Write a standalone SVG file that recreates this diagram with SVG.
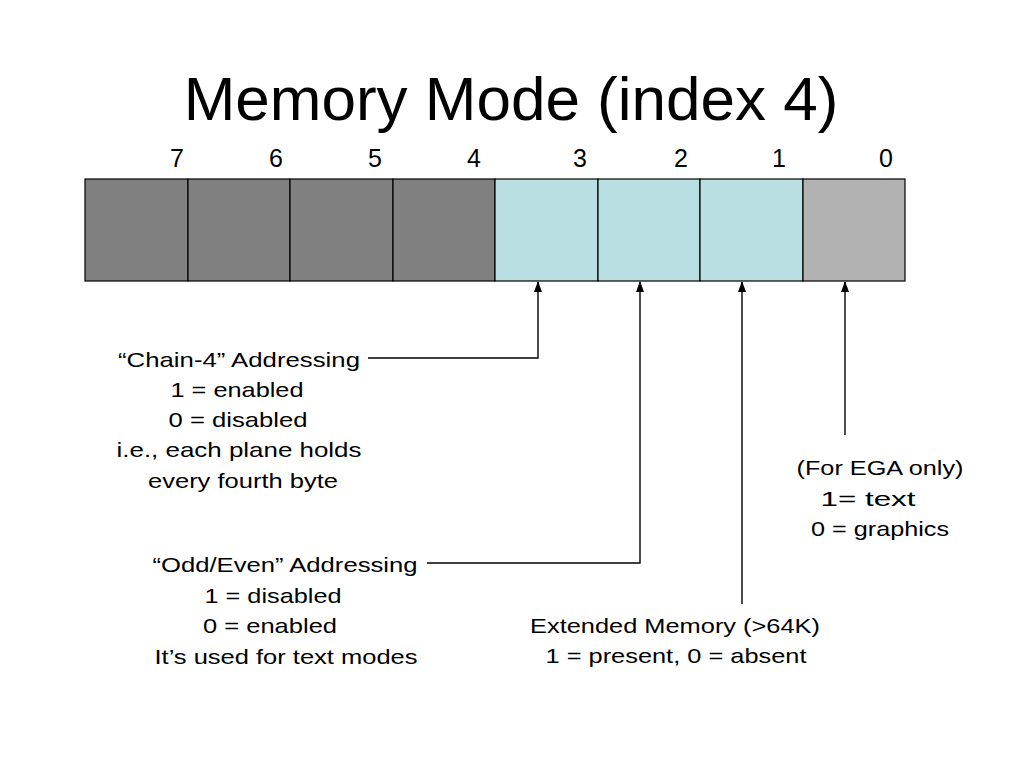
<svg xmlns="http://www.w3.org/2000/svg" width="1024" height="768" viewBox="0 0 1024 768">
<defs>
<style>
text{font-family:"Liberation Sans",Arial,sans-serif;fill:#000;}
.t{font-size:62px;}
.b{font-size:25px;text-anchor:middle;}
.l{font-size:21px;text-anchor:middle;}
.cell{stroke:#000;stroke-width:1.2;}
.dk{fill:#808080;}
.lb{fill:#b9dfe2;}
.lg{fill:#b2b2b2;}
.c{fill:none;stroke:#000;stroke-width:1.4;}
</style>
<marker id="ah" markerWidth="11" markerHeight="8" refX="10" refY="4" orient="auto" markerUnits="userSpaceOnUse" viewBox="0 0 11 8">
<path d="M0,0 L11,4 L0,8 Z" fill="#000"/>
</marker>
</defs>
<rect width="1024" height="768" fill="#fff"/>
<text class="t" x="511" y="120" text-anchor="middle">Memory Mode (index 4)</text>
<g id="bitlabels">
<text class="b" x="177" y="167">7</text>
<text class="b" x="276" y="167">6</text>
<text class="b" x="375" y="167">5</text>
<text class="b" x="474" y="167">4</text>
<text class="b" x="580" y="167">3</text>
<text class="b" x="681" y="167">2</text>
<text class="b" x="779" y="167">1</text>
<text class="b" x="886" y="167">0</text>
</g>
<g id="register">
<rect class="cell dk" x="85" y="179" width="103" height="102"/>
<rect class="cell dk" x="188" y="179" width="102" height="102"/>
<rect class="cell dk" x="290" y="179" width="103" height="102"/>
<rect class="cell dk" x="393" y="179" width="102" height="102"/>
<rect class="cell lb" x="495" y="179" width="103" height="102"/>
<rect class="cell lb" x="598" y="179" width="102" height="102"/>
<rect class="cell lb" x="700" y="179" width="103" height="102"/>
<rect class="cell lg" x="803" y="179" width="102" height="102"/>
</g>
<g id="connectors">
<path class="c" d="M368,358 H538 V282" marker-end="url(#ah)"/>
<path class="c" d="M427,563 H640 V282" marker-end="url(#ah)"/>
<path class="c" d="M742,604 V282" marker-end="url(#ah)"/>
<path class="c" d="M845,435 V282" marker-end="url(#ah)"/>
</g>
<g id="chain4">
<text class="l" x="239" y="367" textLength="242" lengthAdjust="spacingAndGlyphs">“Chain-4” Addressing</text>
<text class="l" x="237" y="397" textLength="133" lengthAdjust="spacingAndGlyphs">1 = enabled</text>
<text class="l" x="238" y="427" textLength="139" lengthAdjust="spacingAndGlyphs">0 = disabled</text>
<text class="l" x="239" y="457" textLength="245" lengthAdjust="spacingAndGlyphs">i.e., each plane holds</text>
<text class="l" x="243" y="488" textLength="190" lengthAdjust="spacingAndGlyphs">every fourth byte</text>
</g>
<g id="oddeven">
<text class="l" x="285" y="572" textLength="265" lengthAdjust="spacingAndGlyphs">“Odd/Even” Addressing</text>
<text class="l" x="273" y="603" textLength="137" lengthAdjust="spacingAndGlyphs">1 = disabled</text>
<text class="l" x="270" y="633" textLength="134" lengthAdjust="spacingAndGlyphs">0 = enabled</text>
<text class="l" x="286" y="664" textLength="263" lengthAdjust="spacingAndGlyphs">It’s used for text modes</text>
</g>
<g id="extmem">
<text class="l" x="675" y="633" textLength="290" lengthAdjust="spacingAndGlyphs">Extended Memory (&gt;64K)</text>
<text class="l" x="676" y="663" textLength="261" lengthAdjust="spacingAndGlyphs">1 = present, 0 = absent</text>
</g>
<g id="ega">
<text class="l" x="880" y="475" textLength="167" lengthAdjust="spacingAndGlyphs">(For EGA only)</text>
<text class="l" x="868" y="506" textLength="95" lengthAdjust="spacingAndGlyphs">1= text</text>
<text class="l" x="880" y="536" textLength="138" lengthAdjust="spacingAndGlyphs">0 = graphics</text>
</g>
</svg>
